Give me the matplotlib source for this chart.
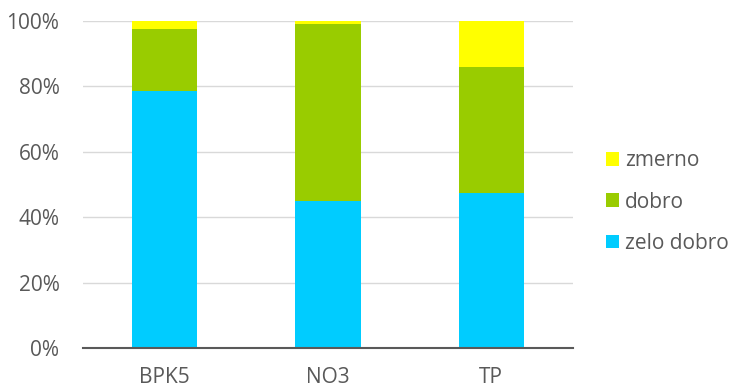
import matplotlib.pyplot as plt
from matplotlib.ticker import PercentFormatter

plt.rcParams['font.family'] = ['Open Sans', 'DejaVu Sans']

categories = ['BPK5', 'NO3', 'TP']
zelo_dobro = [78.7, 45.0, 47.5]
dobro = [18.8, 54.2, 38.5]
zmerno = [2.5, 0.8, 14.0]

text_col = '#595959'

fig = plt.figure(figsize=(7.31, 3.87), dpi=100)
ax = fig.add_axes([83 / 731, 1 - 348 / 387, 490 / 731, 327 / 387])

x = range(len(categories))
b1 = ax.bar(x, zelo_dobro, width=0.4, color='#00ccff', label='zelo dobro', zorder=3)
b2 = ax.bar(x, dobro, width=0.4, bottom=zelo_dobro, color='#99cc00', label='dobro', zorder=3)
bottom3 = [a + b for a, b in zip(zelo_dobro, dobro)]
b3 = ax.bar(x, zmerno, width=0.4, bottom=bottom3, color='#ffff00', label='zmerno', zorder=3)

ax.set_xlim(-0.5, 2.5)
ax.set_ylim(0, 100)
ax.set_yticks(range(0, 101, 20))
ax.yaxis.set_major_formatter(PercentFormatter(decimals=0))
ax.set_xticks(list(x))
ax.set_xticklabels(categories)
ax.tick_params(axis='both', length=0, labelsize=15, colors=text_col)
ax.tick_params(axis='x', pad=14)
ax.tick_params(axis='y', pad=17)
ax.grid(axis='y', color='#d9d9d9', linewidth=1, zorder=0)
for s in ['top', 'right', 'left']:
    ax.spines[s].set_visible(False)
ax.spines['bottom'].set_color(text_col)
ax.spines['bottom'].set_linewidth(1.5)
ax.spines['bottom'].set_zorder(4)

leg = fig.legend(handles=[b3, b2, b1], labels=['zmerno', 'dobro', 'zelo dobro'],
                 loc='center left', bbox_to_anchor=(606 / 731, 1 - 202 / 387),
                 frameon=False, fontsize=15, handlelength=0.63, handleheight=0.63,
                 handletextpad=0.3, labelspacing=0.97, borderpad=0, borderaxespad=0)
for t in leg.get_texts():
    t.set_color(text_col)

plt.savefig('out.png')
